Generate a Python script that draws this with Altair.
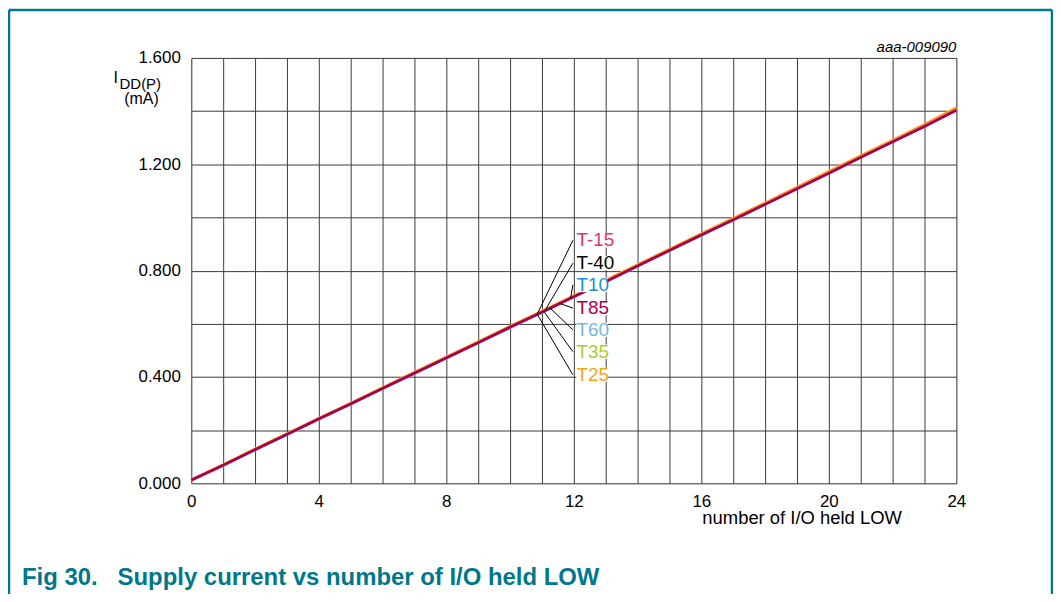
import altair as alt
import pandas as pd

FONT = "Liberation Sans"

io_count = list(range(25))

t85 = [0.012, 0.068, 0.127, 0.184, 0.242, 0.299, 0.357, 0.414, 0.472, 0.529, 0.587, 0.644, 0.702, 0.759, 0.818, 0.876, 0.934, 0.991, 1.049, 1.107, 1.166, 1.226, 1.284, 1.342, 1.403]
t25 = [0.014, 0.070, 0.130, 0.187, 0.245, 0.302, 0.360, 0.418, 0.476, 0.533, 0.591, 0.648, 0.706, 0.764, 0.823, 0.881, 0.939, 0.997, 1.055, 1.114, 1.173, 1.233, 1.291, 1.350, 1.413]
t35 = [0.013, 0.069, 0.129, 0.186, 0.244, 0.301, 0.359, 0.417, 0.475, 0.532, 0.590, 0.647, 0.705, 0.763, 0.822, 0.880, 0.938, 0.996, 1.054, 1.113, 1.172, 1.232, 1.290, 1.349, 1.412]
t60 = [0.011, 0.066, 0.125, 0.182, 0.240, 0.297, 0.355, 0.412, 0.470, 0.527, 0.585, 0.642, 0.700, 0.757, 0.816, 0.874, 0.932, 0.990, 1.048, 1.108, 1.168, 1.226, 1.284, 1.343, 1.405]
t10 = [0.013, 0.069, 0.128, 0.185, 0.243, 0.300, 0.358, 0.415, 0.473, 0.530, 0.588, 0.645, 0.703, 0.760, 0.819, 0.877, 0.935, 0.993, 1.052, 1.112, 1.172, 1.230, 1.288, 1.347, 1.409]
t_15 = [0.012, 0.067, 0.127, 0.184, 0.242, 0.299, 0.357, 0.414, 0.472, 0.529, 0.587, 0.644, 0.702, 0.759, 0.818, 0.876, 0.934, 0.992, 1.050, 1.109, 1.168, 1.227, 1.285, 1.344, 1.406]
t_40 = [0.013, 0.068, 0.128, 0.185, 0.243, 0.300, 0.358, 0.415, 0.473, 0.530, 0.588, 0.645, 0.703, 0.760, 0.819, 0.877, 0.935, 0.993, 1.051, 1.110, 1.169, 1.228, 1.286, 1.345, 1.407]

series_names = ["T-15", "T-40", "T10", "T85", "T60", "T35", "T25"]
series_colors = ["#e6336e", "#000000", "#1b8fd2", "#a8004f", "#72b6e6", "#a9cf2b", "#f8a51d"]
series_values = [t_15, t_40, t10, t85, t60, t35, t25]
draw_order = ["T-40", "T60", "T10", "T35", "T25", "T-15"]

label_y = [0.914, 0.828, 0.746, 0.659, 0.577, 0.495, 0.408]
lead_start_x = [10.85, 11.10, 11.90, 11.55, 11.25, 11.05, 10.85]
lead_start_y = [0.636, 0.651, 0.697, 0.677, 0.660, 0.648, 0.636]
lead_end_x = 11.97
label_x = 12.08
label_end_x = [13.30, 13.30, 13.05, 13.05, 13.05, 13.05, 13.05]

x_ticks = list(range(25))
y_ticks = [0.0, 0.2, 0.4, 0.6, 0.8, 1.0, 1.2, 1.4, 1.6]

rows = []
for name, vals in zip(series_names, series_values):
    for n, v in zip(io_count, vals):
        rows.append({"series": name, "n": n, "i": v})
df = pd.DataFrame(rows)

lab = pd.DataFrame({
    "series": series_names,
    "lx": [label_x] * 7,
    "lx2": label_end_x,
    "ly": label_y,
    "ly1": [v - 0.027 for v in label_y],
    "ly2": [v + 0.027 for v in label_y],
    "sx": lead_start_x,
    "sy": lead_start_y,
    "ex": [lead_end_x] * 7,
})

color = alt.Color("series:N", scale=alt.Scale(domain=series_names, range=series_colors), legend=None)

xscale = alt.Scale(domain=[0, 24], nice=False, zero=False)
yscale = alt.Scale(domain=[0, 1.6], nice=False)

xaxis = alt.Axis(values=x_ticks, labelExpr="datum.value % 4 == 0 ? datum.label : ''",
                 title=None, ticks=False, domain=False, grid=True, gridColor="#3c3c3c", gridWidth=1,
                 labelFont=FONT, labelFontSize=17, labelColor="#000", labelPadding=10,
                 labelFlush=False, labelOverlap=False)
yaxis = alt.Axis(values=y_ticks, format=".3f",
                 labelExpr="round(datum.value*10) % 4 == 0 ? datum.label : ''",
                 title=None, ticks=False, domain=False, grid=True, gridColor="#3c3c3c", gridWidth=1,
                 labelFont=FONT, labelFontSize=17, labelColor="#000", labelPadding=11,
                 labelOverlap=False)


def X(field):
    return alt.X(field, scale=xscale, axis=xaxis)


def Y(field):
    return alt.Y(field, scale=yscale, axis=yaxis)


layers = []
for name in draw_order + ["T85"]:
    layers.append(alt.Chart(df[df.series == name]).mark_line(strokeWidth=2.5).encode(
        x=X("n:Q"), y=Y("i:Q"), color=color))

leaders = alt.Chart(lab).mark_rule(color="#000", strokeWidth=1).encode(
    x=X("sx:Q"), y=Y("sy:Q"), x2="ex:Q", y2="ly:Q",
)
label_bg = alt.Chart(lab).mark_rect(color="white").encode(
    x=X("lx:Q"), x2="lx2:Q", y=Y("ly1:Q"), y2="ly2:Q",
)
labels = alt.Chart(lab).mark_text(align="left", baseline="middle", font=FONT, fontSize=19).encode(
    x=X("lx:Q"), y=Y("ly:Q"), text="series:N", color=color,
)


def txt(s, x, y, size=16, **kw):
    return alt.Chart(pd.DataFrame({"t": [s]})).mark_text(font=FONT, fontSize=size, **kw).encode(
        x=alt.value(x), y=alt.value(y), text="t:N")


TEAL = "#00778b"
ann = [
    txt("I", -78, 25, 16, align="left", baseline="alphabetic"),
    txt("DD(P)", -72, 31, 15, align="left", baseline="alphabetic"),
    txt("(mA)", -50, 46, 16, align="center", baseline="alphabetic"),
    txt("aaa-009090", 768, -6, 15, align="right", baseline="alphabetic", fontStyle="italic"),
    txt("number of I/O held LOW", 513, 468, 18.5, align="left", baseline="alphabetic"),
    txt("Fig 30.", -170, 529, 24, align="left", baseline="alphabetic", fontWeight="bold", color=TEAL),
    txt("Supply current vs number of I/O held LOW", -74, 529, 24, align="left", baseline="alphabetic",
        fontWeight="bold", color=TEAL),
]

one = pd.DataFrame({"a": [0]})
border = [
    alt.Chart(one).mark_rule(color=TEAL, strokeWidth=2.5).encode(
        x=alt.value(-183), x2=alt.value(864), y=alt.value(-48)),
    alt.Chart(one).mark_rule(color=TEAL, strokeWidth=2.5).encode(
        x=alt.value(-183), y=alt.value(-48), y2=alt.value(545)),
    alt.Chart(one).mark_rule(color=TEAL, strokeWidth=2.5).encode(
        x=alt.value(864), y=alt.value(-48), y2=alt.value(545)),
]

chart = alt.layer(*layers, leaders, label_bg, labels, *ann, *border).properties(
    width=768, height=427,
    padding={"left": 184, "top": 49, "right": 97, "bottom": 110},
    autosize=alt.AutoSizeParams(type="none"),
).configure_view(stroke="#3c3c3c", strokeWidth=1).configure(background="white")

chart.save("out.html", embed_options={"renderer": "svg", "actions": False})
